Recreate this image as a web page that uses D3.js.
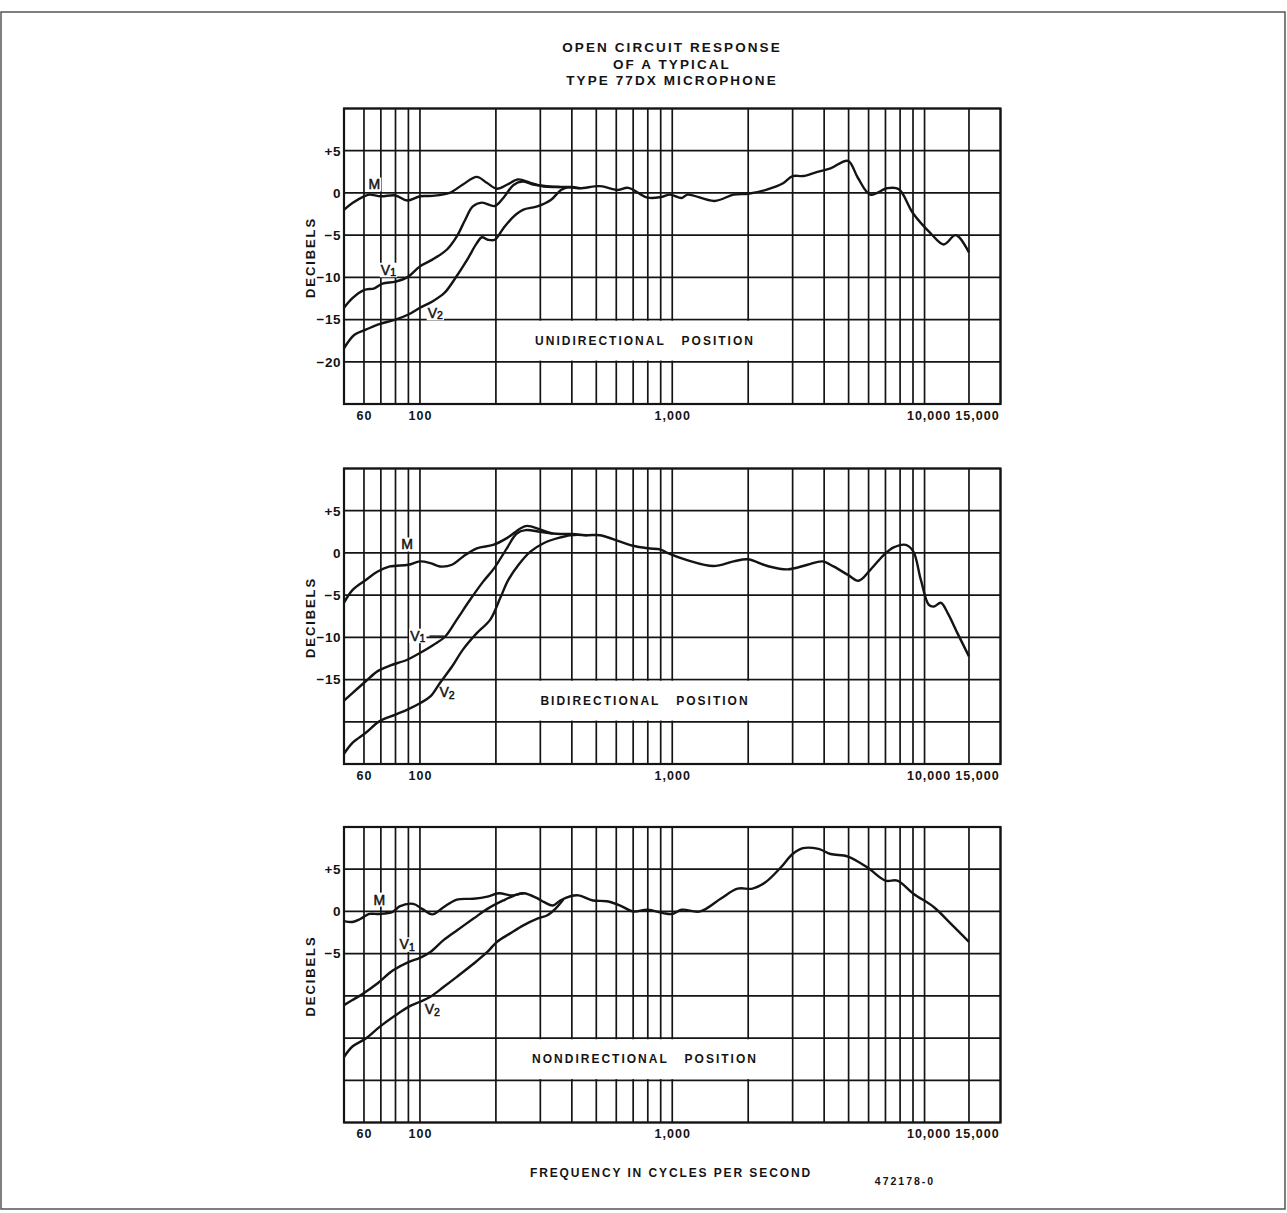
<!DOCTYPE html>
<html>
<head>
<meta charset="utf-8">
<script src="https://cdn.jsdelivr.net/npm/d3@7"></script>
<style>
    body { margin: 0; background: #fff; }
    svg { display: block; }
    text { font-family: "Liberation Sans", Arial, sans-serif; font-weight: bold; fill: #141414; }
</style>
</head>
<body>
<svg width="1287" height="1213"></svg>
<script>
// data: [frequency in c.p.s., decibels]
const uniM = [[50,-2.0],[54,-1.2],[60,-0.4],[63,-0.2],[70,-0.4],[80,-0.3],[89,-0.9],[100,-0.4],[112,-0.35],[131,0],[148,1.0],[168,1.9],[184,1.2],[202,0.5],[222,1.0],[245,1.6],[274,1.2],[309,0.75],[358,0.7],[383,0.7],[430,0.55],[518,0.8],[605,0.35],[670,0.6],[797,-0.55],[900,-0.5],[980,-0.2],[1090,-0.6],[1150,-0.2],[1470,-0.95],[1750,-0.2],[2000,-0.1],[2370,0.4],[2750,1.15],[3000,2.0],[3300,2.0],[3760,2.5],[4240,2.9],[4970,3.8],[5440,1.8],[6100,-0.2],[7100,0.55],[7900,0.45],[9000,-2.4],[10550,-4.75],[11900,-6.1],[13300,-5.0],[15000,-7.05]];
const uniV1 = [[50,-13.6],[54,-12.45],[60,-11.5],[66,-11.3],[71,-10.75],[80,-10.5],[89,-10.0],[100,-8.7],[112,-7.9],[128,-6.7],[140,-5.15],[151,-3.2],[162,-1.6],[176,-1.15],[198,-1.55],[214,-0.6],[235,0.95],[255,1.35],[280,1.0],[320,0.8],[358,0.7]];
const uniV2 = [[50,-18.4],[55,-16.8],[61,-16.2],[68,-15.6],[80,-15.0],[90,-14.4],[100,-13.6],[112,-12.85],[125,-11.85],[138,-10.1],[154,-7.9],[168,-5.95],[176,-5.25],[186,-5.55],[198,-5.55],[214,-4.2],[235,-2.8],[256,-2.0],[292,-1.6],[330,-0.85],[362,0.35],[390,0.7],[430,0.55]];

const biM = [[50,-5.9],[54,-4.4],[61,-3.2],[68,-2.2],[76,-1.6],[90,-1.4],[100,-1.0],[110,-1.2],[120,-1.6],[134,-1.4],[148,-0.45],[168,0.55],[195,0.95],[221,1.75],[250,2.9],[266,3.2],[299,2.8],[336,2.3],[400,2.25],[460,2.1],[518,2.1],[622,1.35],[698,0.85],[800,0.55],[900,0.4],[956,0],[1145,-0.85],[1457,-1.55],[1750,-1.0],[1990,-0.75],[2386,-1.55],[2864,-1.95],[3437,-1.4],[3940,-1.0],[4355,-1.6],[4970,-2.6],[5476,-3.3],[6100,-2.0],[6886,-0.25],[7545,0.65],[8425,0.95],[9030,0.15],[9670,-3.2],[10400,-6.15],[10900,-6.35],[11600,-5.9],[12370,-7.15],[13500,-9.5],[15000,-12.25]];
const biV1 = [[50,-17.5],[54,-16.6],[61,-15.2],[68,-14.0],[76,-13.35],[89,-12.65],[100,-11.85],[113,-10.9],[126,-9.9],[140,-7.9],[158,-5.55],[178,-3.4],[197,-1.8],[221,0.55],[242,2.3],[262,2.7],[299,2.5],[336,2.3]];
const biV2 = [[50,-23.8],[54,-22.5],[61,-21.3],[69,-19.95],[80,-19.15],[90,-18.5],[100,-17.8],[110,-17.0],[120,-15.4],[134,-13.45],[148,-11.45],[168,-9.5],[190,-7.9],[208,-5.35],[224,-3.2],[246,-1.4],[274,0.15],[309,1.15],[352,1.75],[395,2.1],[460,2.1]];

const nonM = [[50,-1.15],[54,-1.25],[58,-0.9],[63,-0.3],[69,-0.3],[78,-0.05],[83,0.6],[94,0.9],[102,0.3],[112,-0.35],[124,0.5],[140,1.4],[163,1.5],[185,1.75],[205,2.15],[232,1.9],[258,2.15],[290,1.6],[311,1.1],[336,0.7],[360,1.3],[395,1.8],[425,1.9],[485,1.3],[550,1.2],[622,0.7],[698,0],[797,0.2],[920,-0.2],[1000,-0.3],[1090,0.2],[1290,0],[1555,1.5],[1815,2.7],[2080,2.7],[2340,3.45],[2690,5.2],[3000,6.8],[3300,7.5],[3800,7.4],[4240,6.8],[4970,6.5],[5940,5.2],[7000,3.65],[7800,3.65],[9030,2.1],[10900,0.5],[12700,-1.45],[15000,-3.6]];
const nonV1 = [[50,-11.1],[54,-10.5],[59,-9.8],[68,-8.5],[78,-7.0],[90,-6.0],[100,-5.5],[110,-4.8],[124,-3.4],[140,-2.25],[163,-0.85],[185,0.3],[214,1.3],[242,2.0],[258,2.15]];
const nonV2 = [[50,-17.25],[54,-16.0],[61,-15.05],[69,-13.7],[80,-12.3],[90,-11.3],[100,-10.7],[110,-10.1],[124,-8.95],[140,-7.75],[163,-6.2],[185,-4.8],[202,-3.6],[228,-2.6],[257,-1.65],[292,-0.85],[320,-0.45],[344,0.3],[370,1.4]];

// grid and tick values
const freqGrid = [50,60,70,80,90,100,200,300,400,500,600,700,800,900,1000,2000,3000,4000,5000,6000,7000,8000,9000,10000,15000,20000];
const freqLabels = [60,100,1000,10000,15000];
const dbGrid = [10,5,0,-5,-10,-15,-20,-25];
const uniTicks = [5,0,-5,-10,-15,-20];
const biTicks = [5,0,-5,-10,-15];
const nonTicks = [5,0,-5];

const titleLines = ["OPEN CIRCUIT RESPONSE", "OF A TYPICAL", "TYPE 77DX MICROPHONE"];

const panels = [
    { top: 108.5, name: "UNIDIRECTIONAL   POSITION", m: uniM, v1: uniV1, v2: uniV2, ticks: uniTicks,
      mAt: [66, 1.0], v1At: [75, -9.1], v2At: [115, -14.2] },
    { top: 468.5, name: "BIDIRECTIONAL   POSITION", m: biM, v1: biV1, v2: biV2, ticks: biTicks,
      mAt: [89, 1.0], v1At: [98, -9.8], v2At: [128, -16.5], leader: [[109, -9.85], [125, -9.85]] },
    { top: 827, name: "NONDIRECTIONAL   POSITION", m: nonM, v1: nonV1, v2: nonV2, ticks: nonTicks,
      mAt: [69, 1.4], v1At: [89, -3.9], v2At: [112, -11.6] },
];

const svg = d3.select("svg");
const W = +svg.attr("width"), H = +svg.attr("height");
const PH = 295.5;
const ink = "#141414";

svg.append("rect").attr("width", W).attr("height", H).attr("fill", "#fff");

// outer sheet frame
svg.append("rect")
    .attr("x", 1).attr("y", 12).attr("width", W - 3).attr("height", H - 16)
    .attr("fill", "none").attr("stroke", "#555").attr("stroke-width", 1.5);

// title
svg.append("g").selectAll("text")
    .data(titleLines).enter().append("text")
    .attr("x", 672)
    .attr("y", (d, i) => 52 + i * 16.5)
    .attr("text-anchor", "middle")
    .style("font-size", "13.5px")
    .style("letter-spacing", "2.1px")
    .text(d => d);

const x = d3.scaleLog().domain([50, 20000]).range([344, 1000.5]);

const line = d3.line()
    .x(d => x(d[0]))
    .curve(d3.curveCatmullRom.alpha(0.5));

function vLabel(g, name, sub, px, py) {
    const t = g.append("text")
        .attr("x", px).attr("y", py)
        .attr("text-anchor", "middle")
        .attr("dominant-baseline", "central")
        .style("font-size", "14px")
        .style("font-weight", "normal")
        .style("stroke", ink).style("stroke-width", 0.5)
        .text(name);
    if (sub) {
        t.append("tspan").attr("dy", 2.5).style("font-size", "10.5px").text(sub);
    }
    const b = t.node().getBBox();
    g.insert("rect", "text")
        .attr("x", b.x - 1).attr("y", b.y + 1)
        .attr("width", b.width + 2).attr("height", b.height - 2)
        .attr("fill", "#fff");
}

panels.forEach(p => {
    const y = d3.scaleLinear().domain([-25, 10]).range([p.top + PH, p.top]);
    const g = svg.append("g");
    const [x0, x1] = x.range();

    // grid
    g.append("g").selectAll("line")
        .data(freqGrid).enter().append("line")
        .attr("x1", d => x(d)).attr("x2", d => x(d))
        .attr("y1", y(10)).attr("y2", y(-25))
        .attr("stroke", ink).attr("stroke-width", 1.7);
    g.append("g").selectAll("line")
        .data(dbGrid).enter().append("line")
        .attr("x1", x0).attr("x2", x1)
        .attr("y1", d => y(d)).attr("y2", d => y(d))
        .attr("stroke", ink).attr("stroke-width", 1.7);

    // blank band for the position caption
    g.append("rect")
        .attr("x", x(200) + 1.2).attr("width", x(3000) - x(200) - 2.4)
        .attr("y", y(-15) + 1.2).attr("height", y(-20) - y(-15) - 2.4)
        .attr("fill", "#fff");
    g.append("text")
        .attr("x", 645).attr("y", y(-17.5))
        .attr("text-anchor", "middle")
        .attr("dominant-baseline", "central")
        .style("font-size", "12px")
        .style("letter-spacing", "2px")
        .style("white-space", "pre")
        .text(p.name);

    // plot frame
    g.append("rect")
        .attr("x", x0).attr("y", y(10))
        .attr("width", x1 - x0).attr("height", y(-25) - y(10))
        .attr("fill", "none").attr("stroke", ink).attr("stroke-width", 2.2);

    // y ticks
    g.append("g")
        .attr("transform", "translate(" + (x0 - 2) + ",0)")
        .call(d3.axisLeft(y).tickValues(p.ticks).tickSize(0).tickPadding(1)
            .tickFormat(d => (d > 0 ? "+" : d < 0 ? "\u2212" : "") + Math.abs(d)))
        .call(a => a.select(".domain").remove())
        .selectAll("text")
        .attr("fill", ink)
        .style("font-family", "'Liberation Sans', Arial, sans-serif")
        .style("font-weight", "bold")
        .style("font-size", "13.5px")
        .style("letter-spacing", "0.5px");

    // x ticks
    g.append("g")
        .attr("transform", "translate(0," + y(-25) + ")")
        .call(d3.axisBottom(x).tickValues(freqLabels).tickSize(0).tickPadding(7)
            .tickFormat(d3.format(",")))
        .call(a => a.select(".domain").remove())
        .selectAll("text")
        .attr("fill", ink)
        .attr("dx", d => (d === 10000 ? 4 : d === 15000 ? 8 : 0))
        .style("font-family", "'Liberation Sans', Arial, sans-serif")
        .style("font-weight", "bold")
        .style("font-size", "12.5px")
        .style("letter-spacing", "1px");

    // y axis title
    g.append("text")
        .attr("transform", "translate(310," + (p.top + 149) + ")rotate(-90)")
        .attr("text-anchor", "middle")
        .attr("dominant-baseline", "central")
        .style("font-size", "13px")
        .style("letter-spacing", "1.9px")
        .text("DECIBELS");

    // curve labels
    const lg = g.append("g");
    vLabel(lg, "M", null, x(p.mAt[0]), y(p.mAt[1]));
    vLabel(lg, "V", "1", x(p.v1At[0]), y(p.v1At[1]));
    vLabel(lg, "V", "2", x(p.v2At[0]), y(p.v2At[1]));
    if (p.leader) {
        g.append("path")
            .attr("d", d3.line().x(d => x(d[0])).y(d => y(d[1]))(p.leader))
            .attr("stroke", ink).attr("stroke-width", 1.4).attr("fill", "none");
    }

    // response curves
    line.y(d => y(d[1]));
    g.append("g").selectAll("path")
        .data([p.m, p.v1, p.v2]).enter().append("path")
        .attr("d", line)
        .attr("fill", "none")
        .attr("stroke", ink)
        .attr("stroke-width", 2.4)
        .attr("stroke-linejoin", "round");
});

svg.append("text")
    .attr("x", 671).attr("y", 1177)
    .attr("text-anchor", "middle")
    .style("font-size", "12px")
    .style("letter-spacing", "1.9px")
    .text("FREQUENCY IN CYCLES PER SECOND");

svg.append("text")
    .attr("x", 905).attr("y", 1185)
    .attr("text-anchor", "middle")
    .style("font-size", "10.5px")
    .style("letter-spacing", "2px")
    .text("472178-0");
</script>
</body>
</html>
